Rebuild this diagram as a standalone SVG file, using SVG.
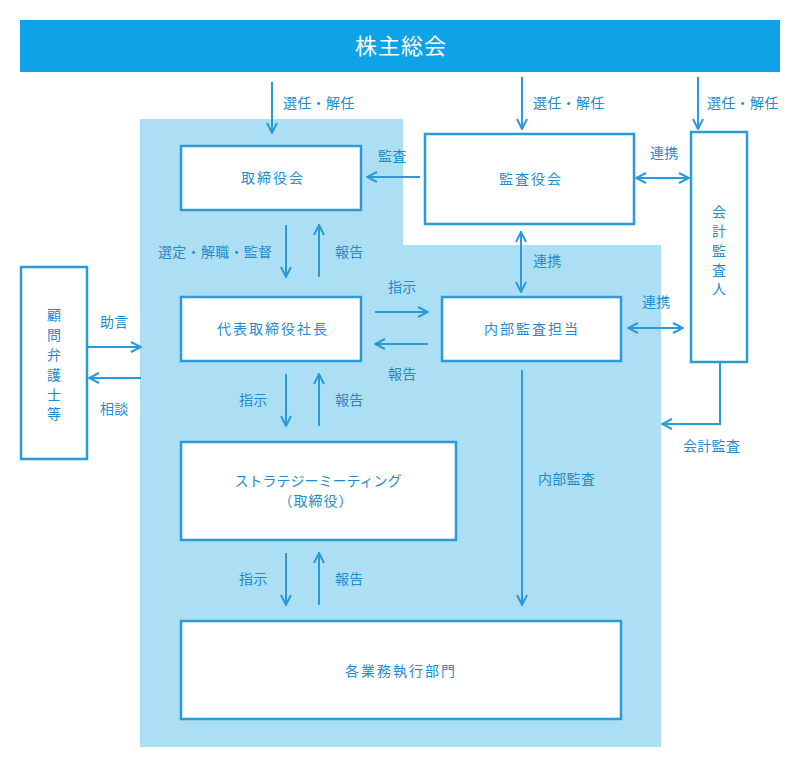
<svg xmlns="http://www.w3.org/2000/svg" width="800" height="774" viewBox="0 0 800 774">
<defs>
<marker id="ah" viewBox="0 0 12 12" refX="11" refY="6" markerWidth="12" markerHeight="12" markerUnits="userSpaceOnUse" orient="auto-start-reverse">
<polyline points="1,1 11,6 1,11" fill="none" stroke="#2a9ad8" stroke-width="2"/>
</marker>
<style>
.box{fill:#fff;stroke:#2a9ad8;stroke-width:2.5}
.t{font-family:"Noto Sans CJK JP","Noto Sans",sans-serif;font-size:14px;fill:#1f8ccd;text-anchor:middle;letter-spacing:2px}
.v{font-family:"Noto Sans CJK JP","Noto Sans",sans-serif;font-size:14px;fill:#1f8ccd;text-anchor:middle}
.l{font-family:"Noto Sans CJK JP","Noto Sans",sans-serif;font-size:14px;fill:#1f8ccd;letter-spacing:0.3px}
.c{fill:none;stroke:#2a9ad8;stroke-width:2}
</style>
</defs>
<rect width="800" height="774" fill="#fff"/>
<polygon points="140,119 403,119 403,245 661,245 661,747 140,747" fill="#addff4"/>
<g id="shareholders">
<rect x="20" y="20" width="760" height="52" fill="#0ea2e7"/>
<text x="401" y="54" font-family="'Noto Sans CJK JP',sans-serif" font-size="22" fill="#fff" text-anchor="middle" letter-spacing="1">株主総会</text>
</g>
<g id="board">
<rect class="box" x="181" y="146" width="180" height="64"/>
<text class="t" x="273" y="183">取締役会</text>
</g>
<g id="auditboard">
<rect class="box" x="425" y="134" width="209" height="90"/>
<text class="t" x="531" y="184">監査役会</text>
</g>
<g id="accountant">
<rect class="box" x="691" y="132" width="56" height="230"/>
<text class="v" x="719" y="217">会</text>
<text class="v" x="719" y="236">計</text>
<text class="v" x="719" y="256">監</text>
<text class="v" x="719" y="275">査</text>
<text class="v" x="719" y="294">人</text>
</g>
<g id="lawyer">
<rect class="box" x="21" y="267" width="66" height="192"/>
<text class="v" x="54" y="320">顧</text>
<text class="v" x="54" y="340">問</text>
<text class="v" x="54" y="360">弁</text>
<text class="v" x="54" y="380">護</text>
<text class="v" x="54" y="400">士</text>
<text class="v" x="54" y="419">等</text>
</g>
<g id="president">
<rect class="box" x="181" y="297" width="180" height="64"/>
<text class="t" x="273" y="334">代表取締役社長</text>
</g>
<g id="internalaudit">
<rect class="box" x="442" y="297" width="179" height="64"/>
<text class="t" x="532" y="334">内部監査担当</text>
</g>
<g id="strategy">
<rect class="box" x="181" y="442" width="275" height="98"/>
<text class="v" x="318" y="486">ストラテジーミーティング</text>
<text class="v" x="316" y="506" letter-spacing="1">（取締役）</text>
</g>
<g id="divisions">
<rect class="box" x="181" y="621" width="440" height="98"/>
<text class="t" x="401" y="676">各業務執行部門</text>
</g>
<g id="connectors">
<line class="c" x1="272" y1="82" x2="272" y2="133" marker-end="url(#ah)"/>
<line class="c" x1="522" y1="77" x2="522" y2="129" marker-end="url(#ah)"/>
<line class="c" x1="698" y1="77" x2="698" y2="129" marker-end="url(#ah)"/>
<line class="c" x1="420" y1="177" x2="367" y2="177" marker-end="url(#ah)"/>
<line class="c" x1="636" y1="178" x2="689" y2="178" marker-start="url(#ah)" marker-end="url(#ah)"/>
<line class="c" x1="521" y1="232" x2="521" y2="292" marker-start="url(#ah)" marker-end="url(#ah)"/>
<line class="c" x1="628" y1="328" x2="683" y2="328" marker-start="url(#ah)" marker-end="url(#ah)"/>
<line class="c" x1="286" y1="225" x2="286" y2="277" marker-end="url(#ah)"/>
<line class="c" x1="319" y1="277" x2="319" y2="225" marker-end="url(#ah)"/>
<line class="c" x1="375" y1="312" x2="428" y2="312" marker-end="url(#ah)"/>
<line class="c" x1="428" y1="344" x2="375" y2="344" marker-end="url(#ah)"/>
<line class="c" x1="88" y1="347" x2="141" y2="347" marker-end="url(#ah)"/>
<line class="c" x1="141" y1="378" x2="89" y2="378" marker-end="url(#ah)"/>
<line class="c" x1="286" y1="374" x2="286" y2="426" marker-end="url(#ah)"/>
<line class="c" x1="319" y1="426" x2="319" y2="374" marker-end="url(#ah)"/>
<line class="c" x1="286" y1="553" x2="286" y2="605" marker-end="url(#ah)"/>
<line class="c" x1="319" y1="605" x2="319" y2="553" marker-end="url(#ah)"/>
<line class="c" x1="522" y1="370" x2="522" y2="605" marker-end="url(#ah)"/>
<polyline class="c" points="720,363 720,424 662,424" marker-end="url(#ah)"/>
</g>
<g id="labels">
<text class="l" x="283" y="108">選任・解任</text>
<text class="l" x="533" y="108">選任・解任</text>
<text class="l" x="707" y="108">選任・解任</text>
<text class="l" x="378" y="161">監査</text>
<text class="l" x="650" y="158">連携</text>
<text class="l" x="533" y="266">連携</text>
<text class="l" x="642" y="307">連携</text>
<text class="l" x="158" y="257">選定・解職・監督</text>
<text class="l" x="335" y="257">報告</text>
<text class="l" x="388" y="292">指示</text>
<text class="l" x="388" y="379">報告</text>
<text class="l" x="100" y="327">助言</text>
<text class="l" x="100" y="414">相談</text>
<text class="l" x="239" y="405">指示</text>
<text class="l" x="335" y="405">報告</text>
<text class="l" x="239" y="584">指示</text>
<text class="l" x="335" y="584">報告</text>
<text class="l" x="538" y="484">内部監査</text>
<text class="l" x="683" y="451">会計監査</text>
</g>
</svg>
